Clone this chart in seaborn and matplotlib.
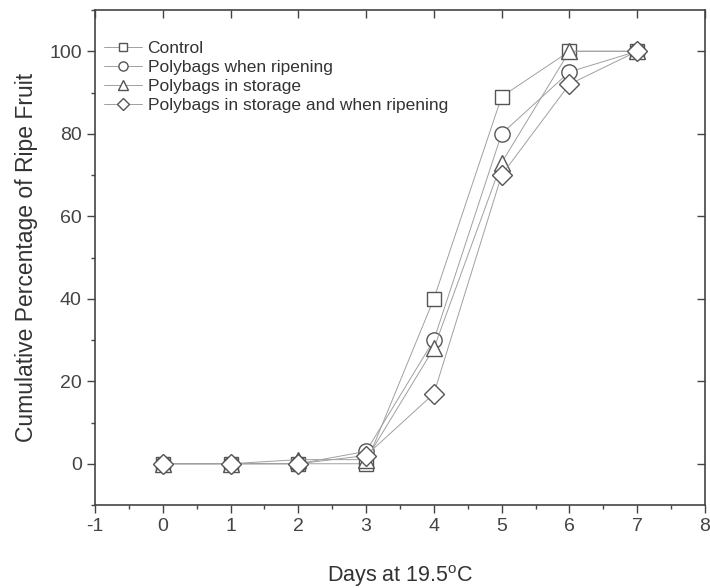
import matplotlib
matplotlib.use("Agg")
import matplotlib.pyplot as plt
import seaborn as sns
import pandas as pd
from matplotlib.ticker import MultipleLocator

days = [0, 1, 2, 3, 4, 5, 6, 7]
control = [0, 0, 0, 0, 40, 89, 100, 100]
ripening = [0, 0, 0, 3, 30, 80, 95, 100]
storage = [0, 0, 1, 1, 28, 73, 100, 100]
storage_ripening = [0, 0, 0, 2, 17, 70, 92, 100]

labels = ["Control", "Polybags when ripening", "Polybags in storage",
          "Polybags in storage and when ripening"]
series = [control, ripening, storage, storage_ripening]
markers = ["s", "o", "^", "D"]
msizes = [10, 11, 11, 10]

sns.set_style("white")
plt.rcParams['font.family'] = ['Liberation Sans', 'DejaVu Sans']
plt.rcParams['axes.unicode_minus'] = False

fig = plt.figure(figsize=(7.1, 5.88), dpi=100)
ax = fig.add_axes([95/710, 1-505/588, 610/710, 495/588])

for lab, vals, m, ms in zip(labels, series, markers, msizes):
    df = pd.DataFrame({"day": days, "val": vals})
    sns.lineplot(data=df, x="day", y="val", ax=ax, label=lab, marker=m,
                 markersize=ms, color="#a0a0a0", linewidth=0.7,
                 markerfacecolor="white", markeredgecolor="#555555",
                 markeredgewidth=1.0)

ax.set_xlim(-1, 8)
ax.set_ylim(-10, 110)
ax.xaxis.set_major_locator(MultipleLocator(1))
ax.xaxis.set_minor_locator(MultipleLocator(0.5))
ax.set_yticks([0, 20, 40, 60, 80, 100])
ax.yaxis.set_minor_locator(MultipleLocator(10))

for s in ax.spines.values():
    s.set_color("#444444")
    s.set_linewidth(1.2)

ax.tick_params(axis="both", which="major", direction="out", length=6,
               width=1, color="#444444", labelsize=14, labelcolor="#444444")
ax.tick_params(axis="both", which="minor", direction="out", length=3,
               width=1, color="#444444")
ax.tick_params(top=False, right=False, which="both")
ax.tick_params(axis="x", which="both", bottom=True)
ax.tick_params(axis="y", which="both", left=True)

# inward ticks on top and right
sec_x = ax.secondary_xaxis("top")
sec_x.xaxis.set_major_locator(MultipleLocator(1))
sec_x.tick_params(direction="in", length=6, width=1, color="#444444", labeltop=False)
sec_x.spines["top"].set_visible(False)
sec_y = ax.secondary_yaxis("right")
sec_y.yaxis.set_major_locator(MultipleLocator(20))
sec_y.tick_params(direction="in", length=6, width=1, color="#444444", labelright=False)
sec_y.spines["right"].set_visible(False)

ax.set_xlabel("Days at 19.5$^{\\mathregular{o}}$C", fontsize=15.5, color="#333333", labelpad=20)
ax.set_ylabel("Cumulative Percentage of Ripe Fruit", fontsize=16.5, color="#333333", labelpad=8)

leg = ax.legend(loc="upper left", frameon=False, fontsize=12.5, markerscale=0.6,
                handlelength=2.2, handletextpad=0.3, labelspacing=0.22,
                bbox_to_anchor=(-0.005, 0.962), borderaxespad=0.3)
for t in leg.get_texts():
    t.set_color("#333333")

fig.savefig("out.png", dpi=100)
